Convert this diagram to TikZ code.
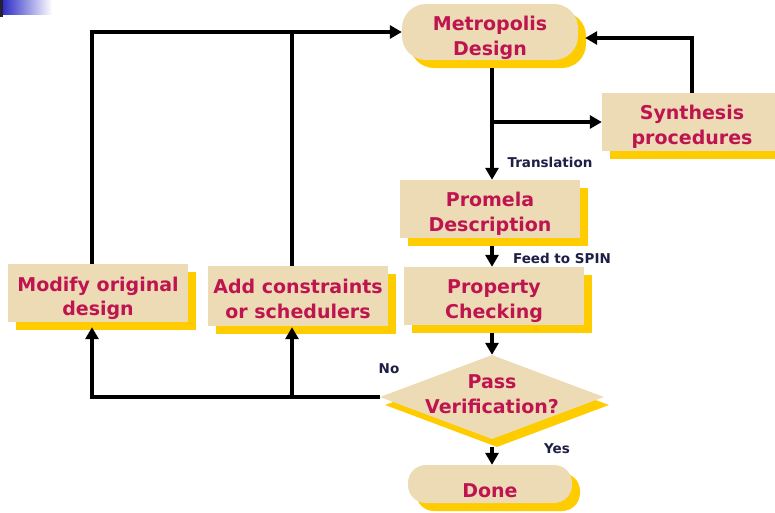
\documentclass[tikz,border=0pt]{standalone}
\usepackage{fontspec}
\setmainfont{DejaVu Sans}
\usetikzlibrary{arrows.meta,shapes.geometric,shadows}
\definecolor{txtc}{HTML}{BE1450}
\definecolor{beige}{HTML}{EDDBB6}
\definecolor{shy}{HTML}{FFCC00}
\definecolor{lblc}{HTML}{1E1E46}
\definecolor{gblue}{HTML}{3030C8}
\definecolor{dbar}{HTML}{222233}
\begin{document}
\begin{tikzpicture}[x=1pt,y=-1pt,
  sh/.style={copy shadow={shadow xshift=8pt,shadow yshift=-8pt,fill=shy,draw=none}},
  box/.style={rectangle,fill=beige,draw=none,sh,text=txtc,
    font=\bfseries\fontsize{19}{24.5}\selectfont,align=center,inner sep=0pt,
    text height=44pt,text depth=0pt,minimum width=180pt,minimum height=58pt},
  pill/.style={box,rounded corners=#1},
  dia/.style={diamond,fill=beige,draw=none,
    copy shadow={shadow xshift=5pt,shadow yshift=-8pt,fill=shy,draw=none},
    inner sep=0pt,minimum width=224pt,minimum height=84pt},
  ttext/.style={text=txtc,font=\bfseries\fontsize{19}{24.5}\selectfont,align=center,
    inner sep=0pt,text depth=0pt},
  lbl/.style={text=lblc,font=\bfseries\fontsize{13.5}{16}\selectfont,inner sep=0pt},
  ln/.style={line width=4pt,black},
  arr/.style={ln,-{Triangle[length=12pt,width=13pt]}}
]
\path[use as bounding box,fill=white] (0,0) rectangle (775,512);
\shade[left color=gblue,right color=white] (3,0) rectangle (52,14);
\fill[dbar] (0,0) rectangle (3,17);

\node[pill=24pt,minimum width=176pt,minimum height=56pt,text height=46pt] (met) at (490,32) {Metropolis\\Design};
\node[box] (syn) at (692,122) {Synthesis\\procedures};
\node[box] (pro) at (490,209) {Promela\\Description};
\node[box] (prop) at (494,296) {Property\\Checking};
\node[dia] (pass) at (492,397) {};
\node[ttext] (passtxt) at (492,394) {Pass\\Verification?};
\node[pill=18pt,minimum width=164pt,minimum height=38pt,text height=26pt] (done) at (490,484) {Done};
\node[box,text height=45pt] (mod) at (98,293) {Modify original\\design};
\node[box,minimum height=60pt] (add) at (298,296) {Add constraints\\or schedulers};

\node[lbl] (ltr) at (550,162) {Translation};
\node[lbl] (lfeed) at (562,258) {Feed to SPIN};
\node[lbl] (lno) at (389,369) {No};
\node[lbl] (lyes) at (557,449) {Yes};

\coordinate (mt) at ([xshift=-6pt]mod.north);
\coordinate (mbm) at ([xshift=-6pt,yshift=-5pt]mod.south);
\coordinate (at) at ([xshift=-6pt]add.north);
\coordinate (ab) at ([xshift=-6pt,yshift=-1pt]add.south);
\coordinate (mr) at ([xshift=7pt,yshift=-6pt]met.east);
\coordinate (mb) at ([xshift=2pt,yshift=-8pt]met.south);
\coordinate (pb) at ([xshift=2pt,yshift=-8pt]pro.south);
\coordinate (qb) at ([xshift=-2pt,yshift=-8pt]prop.south);

\draw[arr] (mt) |- (met.west);
\draw[ln] (at) -- (at |- met.west);
\draw[arr] (syn.north) |- (mr);
\draw[arr] (mb) -- (mb |- pro.north);
\draw[arr] (mb |- syn.west) -- (syn.west);
\draw[arr] (pb) -- (pb |- prop.north);
\draw[arr] (qb) -- (pass.north);
\draw[arr] ([yshift=-8pt]pass.south) -- (pass.south |- done.north);
\draw[arr] (pass.west) -| (mbm);
\draw[arr] (ab |- pass.west) -- (ab);
\end{tikzpicture}
\end{document}
